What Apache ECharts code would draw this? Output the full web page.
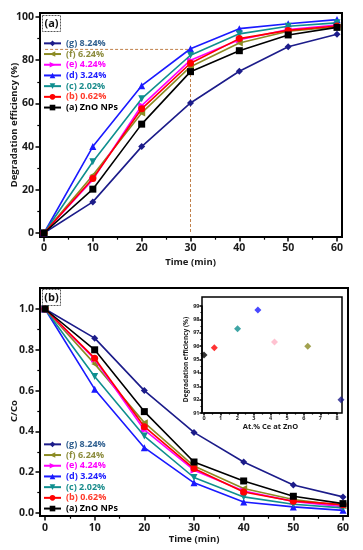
<!DOCTYPE html>
<html><head><meta charset="utf-8">
<script src="https://cdn.jsdelivr.net/npm/echarts@6/dist/echarts.min.js"></script>
<style>html,body{margin:0;padding:0;background:#fff}#c{width:363px;height:550px}</style>
</head><body><div id="c"></div><script>
// ---- data ----
const times = [0, 10, 20, 30, 40, 50, 60];
const seriesNames = ['(g) 8.24%', '(f) 6.24%', '(e) 4.24%', '(d) 3.24%', '(c) 2.02%', '(b) 0.62%', '(a) ZnO NPs'];
// panel (a): degradation efficiency (%)
const effG = [0, 14.4, 40, 60.2, 74.9, 86.2, 92];
const effF = [0, 26.7, 55.6, 77, 88, 93.4, 95.4];
const effE = [0, 24.7, 59, 80, 89.5, 94.2, 96.3];
const effD = [0, 40, 68.2, 85.3, 94.6, 96.9, 98.8];
const effC = [0, 33, 62.2, 82.3, 92.2, 95.7, 97.3];
const effB = [0, 25.2, 57.5, 78.6, 90, 93.8, 95.8];
const effA = [0, 20.3, 50.4, 74.7, 84.4, 91.7, 95.2];
// panel (b): C/Co
const ratioG = [1, 0.857, 0.60, 0.395, 0.25, 0.137, 0.079];
const ratioF = [1, 0.731, 0.443, 0.23, 0.12, 0.066, 0.036];
const ratioE = [1, 0.754, 0.407, 0.21, 0.108, 0.057, 0.031];
const ratioD = [1, 0.607, 0.32, 0.148, 0.054, 0.03, 0.013];
const ratioC = [1, 0.669, 0.377, 0.174, 0.079, 0.043, 0.025];
const ratioB = [1, 0.759, 0.423, 0.218, 0.103, 0.058, 0.041];
const ratioA = [1, 0.80, 0.497, 0.25, 0.157, 0.082, 0.046];
// inset: final degradation efficiency vs Ce content
const ceContent = [0, 0.62, 2.02, 3.24, 4.24, 6.24, 8.24];
const finalEff = [95.33, 95.88, 97.3, 98.7, 96.3, 96.0, 92.0];
// reference guide (time, efficiency)
const refGuide = [30, 85];
// axis ranges / tick steps
const timeRange = [0, 60, 10];
const effRange = [0, 100, 20];
const ratioRange = [0, 1.0, 0.2];
const ceRange = [0, 8, 1];
const insetEffRange = [91, 99, 1];

// ---- styles ----
const FONT = 'Open Sans';
const lineColors = ['#1c1c8a', '#8b8b23', '#ff00ff', '#1a1aff', '#0f8f8f', '#ff0000', '#000000'];
const textColors = ['#2f5f8f', '#8c8c3c', '#ff00ff', '#2020ff', '#1a8c8c', '#ff3a2a', '#000000'];
const symbols = ['diamond', 'triangle', 'triangle', 'triangle', 'triangle', 'circle', 'rect'];
const rotates = [0, 90, -90, 0, 180, 0, 0];
const insetColors = ['#000000', '#ff0000', '#0f8f8f', '#1a1aff', '#ffb3c6', '#8b8b23', '#1c1c8a'];

const effSets = [effG, effF, effE, effD, effC, effB, effA];
const ratioSets = [ratioG, ratioF, ratioE, ratioD, ratioC, ratioB, ratioA];

function dataAxis(dim, grid, range, o) {
  return {
    type: 'value', gridIndex: grid, min: range[0], max: range[1], interval: range[2],
    position: dim === 'x' ? 'bottom' : 'left', offset: o.offset,
    axisLine: {show: true, onZero: false, lineStyle: {color: '#000', width: o.lw || 2}},
    axisTick: {show: true, inside: false, length: o.tl || 4.5, lineStyle: {color: '#000', width: 1.5}},
    minorTick: {show: true, splitNumber: 2, length: (o.tl || 4.5) * 0.6, lineStyle: {color: '#000', width: 1.2}},
    axisLabel: {show: true, margin: o.margin, fontFamily: FONT, fontWeight: 'bold', fontSize: o.fs, color: '#1a1a1a',
      formatter: o.fmt || (v => String(v))},
    splitLine: {show: false}, minorSplitLine: {show: false},
    name: o.name, nameLocation: 'middle', nameGap: o.gap, nameMoveOverlap: false,
    nameTextStyle: {fontFamily: FONT, fontWeight: 'bold', fontSize: o.nfs, color: '#1a1a1a'}
  };
}
function hiddenAxis(grid) {
  return {type: 'value', gridIndex: grid, show: false, min: 0, max: 1, splitLine: {show: false}};
}

const xAxes = [
  dataAxis('x', 0, timeRange, {offset: 4, margin: 6, fs: 10.5, name: 'Time (min)', gap: 20, nfs: 9.5}),
  dataAxis('x', 1, timeRange, {offset: 3, margin: 7, fs: 10.5, name: 'Time (min)', gap: 18, nfs: 9.5}),
  dataAxis('x', 2, ceRange, {offset: 0, margin: 2.5, fs: 5.5, tl: 2.5, lw: 1.5, name: 'At.% Ce at ZnO', gap: 10, nfs: 7.5}),
  hiddenAxis(3), hiddenAxis(4), hiddenAxis(5)
];
const yAxes = [
  dataAxis('y', 0, effRange, {offset: 4, margin: 6, fs: 10.5, name: 'Degradation efficiency (%)', gap: 21, nfs: 9.5}),
  dataAxis('y', 1, ratioRange, {offset: 5, margin: 6, fs: 10.5, name: 'C/Co', gap: 21, nfs: 9.5, fmt: v => v.toFixed(1)}),
  dataAxis('y', 2, insetEffRange, {offset: 2, margin: 2.5, fs: 5.5, tl: 2.5, lw: 1.5, name: 'Degradation efficiency (%)', gap: 12, nfs: 6.5}),
  hiddenAxis(3), hiddenAxis(4), hiddenAxis(5)
];

const series = [];
seriesNames.forEach((nm, i) => {
  series.push({
    name: nm, type: 'line', xAxisIndex: 0, yAxisIndex: 0,
    data: times.map((t, k) => [t, effSets[i][k]]),
    symbol: symbols[i], symbolRotate: rotates[i], symbolSize: 7, clip: false,
    lineStyle: {color: lineColors[i], width: 1.6}, itemStyle: {color: lineColors[i]},
    z: 3 + i, animation: false
  });
});
seriesNames.forEach((nm, i) => {
  series.push({
    name: nm, type: 'line', xAxisIndex: 1, yAxisIndex: 1,
    data: times.map((t, k) => [t, ratioSets[i][k]]),
    symbol: symbols[i], symbolRotate: rotates[i], symbolSize: 7, clip: false,
    lineStyle: {color: lineColors[i], width: 1.6}, itemStyle: {color: lineColors[i]},
    z: 3 + i, animation: false
  });
});
series.push({
  name: 'guide', type: 'line', xAxisIndex: 0, yAxisIndex: 0, clip: false,
  data: [[timeRange[0] - 0.8, refGuide[1]], [refGuide[0], refGuide[1]], [refGuide[0], effRange[0]]],
  symbol: 'none', lineStyle: {color: '#c0804a', width: 1, type: [3, 2]}, z: 1, animation: false
});
series.push({
  name: 'inset', type: 'scatter', xAxisIndex: 2, yAxisIndex: 2, clip: false,
  data: ceContent.map((x, i) => ({value: [x, finalEff[i]], itemStyle: {color: insetColors[i]}})),
  symbol: 'diamond', symbolSize: 7, z: 20, animation: false
});

function legendFor(top) {
  return {
    orient: 'vertical', left: 43, top: top, itemWidth: 17, itemHeight: 7, itemGap: 0,
    selectedMode: false, padding: 0,
    textStyle: {fontFamily: FONT, fontWeight: 'bold', fontSize: 9, lineHeight: 10.7},
    data: seriesNames.map((n, i) => ({name: n, textStyle: {color: textColors[i]}}))
  };
}

function boxLabel(x, y, txt) {
  return {
    type: 'group', left: x, top: y, z: 50,
    children: [
      {type: 'rect', shape: {x: 0, y: 0, width: 18, height: 16}, style: {fill: '#fff', stroke: '#555', lineWidth: 1, lineDash: [2, 1]}},
      {type: 'text', x: 9, y: 8, style: {text: txt, fontFamily: FONT, fontWeight: 'bold', fontSize: 11, fill: '#111', align: 'center', verticalAlign: 'middle'}}
    ]
  };
}

const nb = {containLabel: false, outerBoundsMode: 'none', show: false};
const box = {containLabel: false, outerBoundsMode: 'none', show: true, borderColor: '#000', backgroundColor: 'transparent'};
const chart = echarts.init(document.getElementById('c'), null, {renderer: 'canvas'});
chart.setOption({
  backgroundColor: '#fff',
  animation: false,
  grid: [
    Object.assign({left: 44, top: 17, width: 293, height: 216}, nb),
    Object.assign({left: 45, top: 309, width: 298, height: 204}, nb),
    Object.assign({left: 204, top: 306, width: 133, height: 107}, nb),
    Object.assign({left: 40, top: 13, width: 302, height: 224, borderWidth: 2}, box),
    Object.assign({left: 40, top: 288, width: 308, height: 228, borderWidth: 2}, box),
    Object.assign({left: 202, top: 297, width: 140, height: 116, borderWidth: 1.5}, box)
  ],
  xAxis: xAxes,
  yAxis: yAxes,
  legend: [legendFor(38), legendFor(439)],
  series: series,
  graphic: [boxLabel(42, 15, '(a)'), boxLabel(42, 289, '(b)')]
});
</script></body></html>
